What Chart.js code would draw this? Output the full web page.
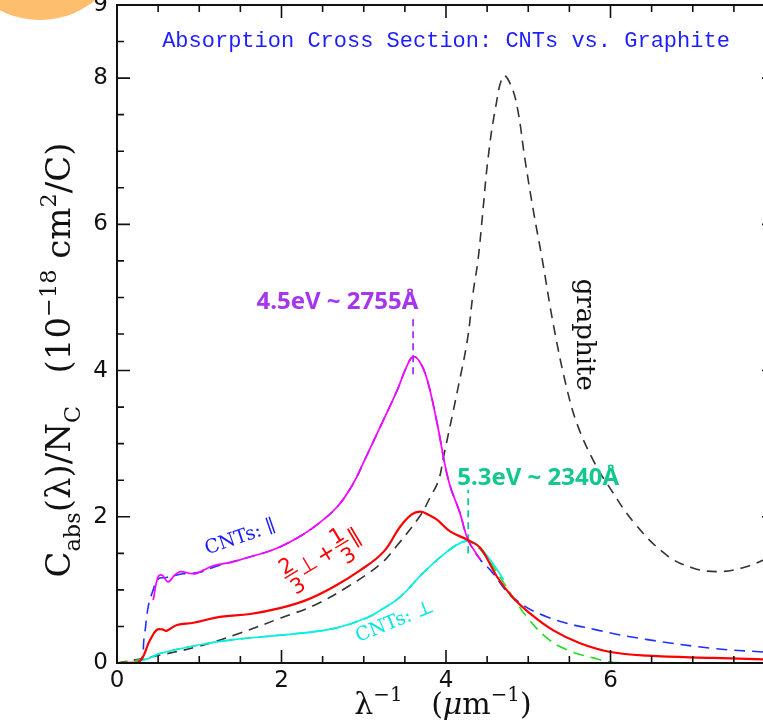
<!DOCTYPE html>
<html>
<head>
<meta charset="utf-8">
<script src="https://cdn.jsdelivr.net/npm/chart.js@4.4.1/dist/chart.umd.min.js"></script>
<style>
  html, body { margin: 0; padding: 0; background: #fff; overflow: hidden; }
  #wrap { width: 790px; height: 722px; }
</style>
</head>
<body>
<div id="wrap"><canvas id="absChart" width="790" height="722"></canvas></div>
<script>
// graphite (black dashed)
const graphiteX = [0, 0.4, 1.0, 1.5, 2.0, 2.4, 2.8, 3.2, 3.4, 3.69, 3.8, 3.91, 3.97, 4.14, 4.26, 4.33, 4.39, 4.45, 4.51, 4.6, 4.7, 4.79, 4.87, 4.96, 5.06, 5.17, 5.31, 5.47, 5.6, 5.8, 5.96, 6.3, 6.69, 7.0, 7.3, 7.6, 7.86, 8.0];
const graphiteY = [0, 0.08, 0.23, 0.41, 0.62, 0.79, 1.04, 1.35, 1.6, 2.02, 2.25, 2.5, 2.82, 3.73, 4.42, 5.07, 5.52, 6.2, 6.89, 7.58, 8.03, 7.9, 7.58, 6.89, 6.2, 5.52, 4.6, 3.75, 3.25, 2.75, 2.45, 1.9, 1.47, 1.3, 1.25, 1.3, 1.41, 1.5];

// CNTs parallel: data (magenta) and fit (blue dashed)
const cntParX = [0.44, 0.5, 0.55, 0.62, 0.7, 0.77, 0.87, 0.95, 1.05, 1.17, 1.4, 1.58, 1.9, 2.19, 2.43, 2.68, 2.87, 3.0, 3.2, 3.41, 3.52, 3.6, 3.68, 3.77, 3.89, 4.03, 4.17, 4.27, 4.42];
const cntParY = [0.86, 1.18, 1.2, 1.11, 1.2, 1.25, 1.23, 1.22, 1.27, 1.33, 1.38, 1.44, 1.55, 1.71, 1.89, 2.14, 2.45, 2.75, 3.23, 3.74, 4.05, 4.19, 4.12, 3.88, 3.29, 2.5, 2.05, 1.68, 1.41];
const parFitX = [0, 0.27, 0.33, 0.38, 0.44, 0.5, 0.6, 0.8, 1.0, 1.2, 1.58, 1.9, 2.19, 2.43, 2.68, 2.87, 3.0, 3.2, 3.41, 3.52, 3.6, 3.68, 3.77, 3.89, 4.03, 4.17, 4.27, 4.42, 4.54, 4.82, 5.23, 5.84, 6.45, 7.25, 7.86, 8.0];
const parFitY = [0, 0.01, 0.35, 0.77, 1.0, 1.15, 1.17, 1.22, 1.24, 1.32, 1.44, 1.55, 1.71, 1.89, 2.14, 2.45, 2.75, 3.23, 3.74, 4.05, 4.19, 4.12, 3.88, 3.29, 2.5, 2.05, 1.68, 1.41, 1.27, 0.89, 0.63, 0.45, 0.32, 0.2, 0.15, 0.14];

// 2/3 perp + 1/3 par (red)
const mixX = [0, 0.26, 0.4, 0.48, 0.55, 0.6, 0.73, 0.93, 1.25, 1.62, 1.98, 2.3, 2.63, 2.96, 3.24, 3.44, 3.58, 3.69, 3.8, 3.89, 4.05, 4.27, 4.42, 4.62, 4.81, 5.02, 5.3, 5.63, 6.0, 6.45, 7.25, 7.86, 8.0];
const mixY = [0, 0.01, 0.31, 0.45, 0.46, 0.44, 0.52, 0.55, 0.63, 0.67, 0.75, 0.86, 1.04, 1.27, 1.52, 1.86, 2.03, 2.07, 2.02, 1.96, 1.8, 1.68, 1.57, 1.18, 0.9, 0.68, 0.45, 0.27, 0.15, 0.1, 0.07, 0.05, 0.05];

// CNTs perpendicular: data (cyan) and fit (green dashed)
const cntPerpX = [0.3, 0.4, 0.52, 1.01, 1.42, 1.98, 2.63, 3.04, 3.2, 3.44, 3.72, 4.01, 4.21, 4.3, 4.38, 4.54, 4.7];
const cntPerpY = [0.03, 0.07, 0.13, 0.25, 0.32, 0.38, 0.47, 0.62, 0.72, 0.9, 1.23, 1.52, 1.66, 1.66, 1.62, 1.41, 1.14];
const perpFitX = [0, 0.2, 0.4, 0.52, 1.01, 1.42, 1.98, 2.63, 3.04, 3.2, 3.44, 3.72, 4.01, 4.21, 4.3, 4.38, 4.54, 4.7, 4.82, 4.99, 5.23, 5.47, 5.79, 6.03, 6.5, 8.0];
const perpFitY = [0, 0.03, 0.07, 0.13, 0.25, 0.32, 0.38, 0.47, 0.62, 0.72, 0.9, 1.23, 1.52, 1.66, 1.65, 1.6, 1.37, 1.1, 0.89, 0.62, 0.34, 0.18, 0.07, 0.01, 0, 0];

// peak markers
const peakParX = [3.6, 3.6];
const peakParY = [3.95, 4.77];
const peakPerpX = [4.27, 4.27];
const peakPerpY = [1.5, 2.37];

const xTicks = { min: 0, max: 8, step: 0.5 };
const yTicks = { min: 0, max: 9, step: 0.5 };

const toPts = (xs, ys) => xs.map((x, i) => ({ x: x, y: ys[i] }));

const C_PURPLE = '#a536ee';
const C_TEAL = '#14c78f';

function curve(label, xs, ys, color, width, dash) {
  return {
    label: label,
    data: toPts(xs, ys),
    borderColor: color,
    borderWidth: width,
    borderDash: dash || [],
    pointRadius: 0,
    fill: false,
    tension: 0.4
  };
}
function marker(label, xs, ys, color) {
  return {
    label: label,
    data: toPts(xs, ys),
    borderColor: color,
    borderWidth: 1.8,
    borderDash: [7, 5],
    pointRadius: 0,
    fill: false,
    tension: 0
  };
}

// rich text: parts of {t, k:'n'|'sub'|'sup', it}
function richWidth(ctx, parts, size, fam) {
  let w = 0;
  parts.forEach(p => {
    const s = p.k === 'n' ? size : size * 0.66;
    ctx.font = (p.it ? 'italic ' : '') + s + 'px ' + fam;
    w += ctx.measureText(p.t).width;
  });
  return w;
}
function drawRich(ctx, parts, size, fam) {
  let x = -richWidth(ctx, parts, size, fam) / 2;
  ctx.textAlign = 'left';
  ctx.textBaseline = 'alphabetic';
  parts.forEach(p => {
    const s = p.k === 'n' ? size : size * 0.66;
    ctx.font = (p.it ? 'italic ' : '') + s + 'px ' + fam;
    let dy = 0;
    if (p.k === 'sub') dy = size * 0.28;
    if (p.k === 'sup') dy = -size * 0.42;
    ctx.fillText(p.t, x, dy);
    x += ctx.measureText(p.t).width;
  });
}

function rotText(ctx, text, font, color, px, py, deg) {
  ctx.save();
  ctx.translate(px, py);
  ctx.rotate(deg * Math.PI / 180);
  ctx.font = font;
  ctx.fillStyle = color;
  ctx.textAlign = 'center';
  ctx.textBaseline = 'middle';
  ctx.fillText(text, 0, 0);
  ctx.restore();
}

const decor = {
  id: 'decor',
  afterDraw(chart) {
    const { ctx, chartArea: a, scales: { x, y } } = chart;
    ctx.save();
    // frame and inward ticks
    ctx.strokeStyle = '#111';
    ctx.lineWidth = 2;
    ctx.strokeRect(a.left, a.top, a.right - a.left, a.bottom - a.top);
    ctx.lineWidth = 1.6;
    ctx.beginPath();
    x.ticks.forEach(t => {
      const p = x.getPixelForValue(t.value);
      const len = t.value % 2 === 0 ? 13 : 7;
      ctx.moveTo(p, a.bottom); ctx.lineTo(p, a.bottom - len);
      ctx.moveTo(p, a.top); ctx.lineTo(p, a.top + len);
    });
    y.ticks.forEach(t => {
      const p = y.getPixelForValue(t.value);
      const len = t.value % 2 === 0 ? 13 : 7;
      ctx.moveTo(a.left, p); ctx.lineTo(a.left + len, p);
      ctx.moveTo(a.right, p); ctx.lineTo(a.right - len, p);
    });
    ctx.stroke();

    // title
    ctx.fillStyle = '#1e1eff';
    ctx.font = '22px "Liberation Mono"';
    ctx.textAlign = 'center';
    ctx.textBaseline = 'middle';
    ctx.fillText('Absorption Cross Section: CNTs vs. Graphite', x.getPixelForValue(4.0), y.getPixelForValue(8.5));

    // peak labels
    ctx.font = 'bold 24px "Noto Sans"';
    ctx.fillStyle = C_PURPLE;
    ctx.fillText('4.5eV ~ 2755Å', x.getPixelForValue(2.68), y.getPixelForValue(4.94));
    ctx.fillStyle = C_TEAL;
    ctx.fillText('5.3eV ~ 2340Å', x.getPixelForValue(5.12), y.getPixelForValue(2.53));

    // curve labels
    rotText(ctx, 'graphite', '26px "DejaVu Serif"', '#111', x.getPixelForValue(5.67), y.getPixelForValue(4.49), 90);
    rotText(ctx, 'CNTs: ∥', '19px "DejaVu Serif"', '#1a1aff', x.getPixelForValue(1.5), y.getPixelForValue(1.71), -19);
    rotText(ctx, 'CNTs: ⊥', '19px "DejaVu Serif"', '#00e6e6', x.getPixelForValue(3.38), y.getPixelForValue(0.56), -22);

    // red mixed label with fractions
    ctx.save();
    ctx.translate(x.getPixelForValue(2.53), y.getPixelForValue(1.41));
    ctx.rotate(-31 * Math.PI / 180);
    ctx.fillStyle = '#ff0000';
    ctx.strokeStyle = '#ff0000';
    ctx.lineWidth = 1.4;
    const fr = '21px "DejaVu Sans"';
    const sy = '22px "DejaVu Sans"';
    const seq = [['f', '2', '3'], ['s', '⊥'], ['s', '+'], ['f', '1', '3'], ['s', '∥']];
    let tw = 0;
    const ws = seq.map(s => {
      ctx.font = s[0] === 'f' ? fr : sy;
      const w = s[0] === 'f' ? ctx.measureText('3').width + 2 : ctx.measureText(s[1]).width + 3;
      tw += w;
      return w;
    });
    let cx = -tw / 2;
    ctx.textAlign = 'center';
    ctx.textBaseline = 'alphabetic';
    seq.forEach((s, i) => {
      const mid = cx + ws[i] / 2;
      if (s[0] === 'f') {
        ctx.font = fr;
        ctx.fillText(s[1], mid, -8);
        ctx.fillText(s[2], mid, 15);
        ctx.beginPath();
        ctx.moveTo(cx, -5); ctx.lineTo(cx + ws[i], -5);
        ctx.stroke();
      } else {
        ctx.font = sy;
        ctx.fillText(s[1], mid, 2);
      }
      cx += ws[i];
    });
    ctx.restore();

    // axis titles
    ctx.fillStyle = '#111';
    ctx.save();
    ctx.translate(443, 714);
    drawRich(ctx, [
      { t: 'λ', k: 'n' }, { t: '−1', k: 'sup' }, { t: '   (', k: 'n' },
      { t: 'μ', k: 'n', it: true }, { t: 'm', k: 'n' }, { t: '−1', k: 'sup' }, { t: ')', k: 'n' }
    ], 30, '"DejaVu Serif"');
    ctx.restore();
    ctx.save();
    ctx.translate(70, 360);
    ctx.rotate(-Math.PI / 2);
    drawRich(ctx, [
      { t: 'C', k: 'n' }, { t: 'abs', k: 'sub' }, { t: '(λ)/N', k: 'n' }, { t: 'C', k: 'sub' },
      { t: '   (10', k: 'n' }, { t: '−18', k: 'sup' }, { t: ' cm', k: 'n' }, { t: '2', k: 'sup' }, { t: '/C)', k: 'n' }
    ], 34, '"DejaVu Serif"');
    ctx.restore();

    // orange badge in the corner
    ctx.fillStyle = '#fdbe6e';
    ctx.beginPath();
    ctx.arc(40, -67, 87, 0, Math.PI * 2);
    ctx.fill();
    ctx.restore();
  }
};

new Chart(document.getElementById('absChart').getContext('2d'), {
  type: 'line',
  data: {
    datasets: [
      curve('2/3 perp + 1/3 par', mixX, mixY, '#ff0000', 2.2),
      curve('CNTs par', cntParX, cntParY, '#ff00ff', 1.7),
      curve('CNTs perp', cntPerpX, cntPerpY, '#00f0f0', 1.7),
      curve('par fit', parFitX, parFitY, '#1f2fff', 1.6, [11, 7]),
      curve('perp fit', perpFitX, perpFitY, '#22dd22', 1.6, [11, 7]),
      curve('graphite', graphiteX, graphiteY, '#333333', 1.6, [10, 7]),
      marker('4.5 eV', peakParX, peakParY, C_PURPLE),
      marker('5.3 eV', peakPerpX, peakPerpY, C_TEAL)
    ]
  },
  options: {
    responsive: false,
    animation: false,
    devicePixelRatio: 1,
    layout: { padding: { top: 5, right: 15, left: 0, bottom: 0 } },
    plugins: { legend: { display: false }, tooltip: { enabled: false } },
    scales: {
      x: {
        type: 'linear', min: xTicks.min, max: xTicks.max,
        grid: { display: false, drawTicks: false },
        border: { display: false },
        ticks: {
          stepSize: xTicks.step, autoSkip: false, maxRotation: 0, padding: 4, color: '#111',
          font: { family: 'DejaVu Sans', size: 23 },
          callback: v => (v % 2 === 0 ? String(v) : '')
        },
        afterFit: s => { s.height = 59; s.paddingLeft = 0; s.paddingRight = 0; }
      },
      y: {
        type: 'linear', min: yTicks.min, max: yTicks.max,
        grid: { display: false, drawTicks: false },
        border: { display: false },
        ticks: {
          stepSize: yTicks.step, autoSkip: false, padding: 9, color: '#111',
          font: { family: 'DejaVu Sans', size: 23 },
          callback: v => (v % 2 === 0 || v === 9 ? String(v) : '')
        },
        afterFit: s => { s.width = 117; s.paddingTop = 0; s.paddingBottom = 0; }
      }
    }
  },
  plugins: [decor]
});
</script>
</body>
</html>
